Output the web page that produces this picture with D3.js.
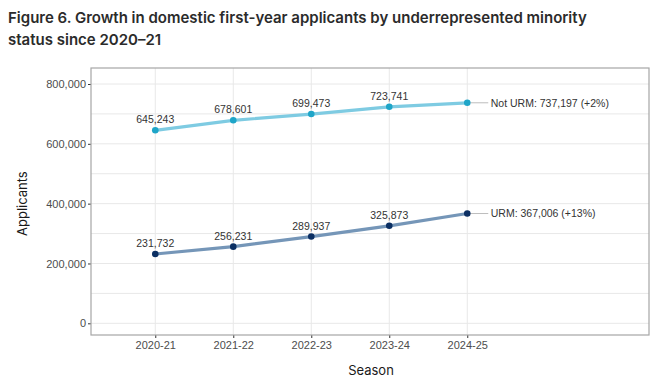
<!DOCTYPE html>
<html>
<head>
<meta charset="utf-8" />
<title>Figure 6</title>
<script src="https://d3js.org/d3.v7.min.js"></script>
<style>
body { margin: 0; background: #fff; }
svg { display: block; }
.title { font-family: Inter, "Noto Sans", sans-serif; font-weight: 600; font-size: 15px; fill: #2b2b2b; }
.tick text { font-family: "Liberation Sans", Arial, sans-serif; font-size: 11px; fill: #4d4d4d; }
.axis-title { font-family: Inter, "Noto Sans", sans-serif; font-size: 13px; fill: #1a1a1a; }
.val { font-family: "Liberation Sans", Arial, sans-serif; font-size: 10.5px; fill: #333; }
</style>
</head>
<body>
<div id="chart"></div>
<script>
var width = 660, height = 385;

// data
var seasons = ["2020-21", "2021-22", "2022-23", "2023-24", "2024-25"];
var notUrm = [645243, 678601, 699473, 723741, 737197];
var urm = [231732, 256231, 289937, 325873, 367006];
var seriesNames = ["Not URM", "URM"];
var endLabels = ["Not URM: 737,197 (+2%)", "URM: 367,006 (+13%)"];
var yTicks = [0, 200000, 400000, 600000, 800000];
var yMinor = [100000, 300000, 500000, 700000];

var panel = { left: 91, right: 649, top: 68, bottom: 335 };

// x range is padded on the right to leave room for the end labels
var x = d3.scaleLinear().domain([-0.824, 6.33]).range([panel.left, panel.right]);
var y = d3.scaleLinear().domain([0, 800000]).range([323.3, 84]);

var svg = d3.select("#chart").append("svg")
    .attr("width", width).attr("height", height);

svg.append("text").attr("class", "title").attr("x", 8).attr("y", 23)
    .text("Figure 6. Growth in domestic first-year applicants by underrepresented minority");
svg.append("text").attr("class", "title").attr("x", 8).attr("y", 45)
    .text("status since 2020\u201321");

// grid
var grid = svg.append("g");
grid.selectAll("line.h").data(yTicks.concat(yMinor)).enter().append("line")
    .attr("x1", panel.left).attr("x2", panel.right)
    .attr("y1", function(d) { return y(d); }).attr("y2", function(d) { return y(d); })
    .attr("stroke", "#e8e8e8").attr("stroke-width", 1);
grid.selectAll("line.v").data(seasons).enter().append("line")
    .attr("y1", panel.top).attr("y2", panel.bottom)
    .attr("x1", function(d, i) { return x(i); }).attr("x2", function(d, i) { return x(i); })
    .attr("stroke", "#e8e8e8").attr("stroke-width", 1);

// axes
var yAxis = svg.append("g").attr("transform", "translate(" + panel.left + ",0)")
    .call(d3.axisLeft(y).tickValues(yTicks).tickSize(3).tickPadding(2).tickFormat(d3.format(",")));
var xAxis = svg.append("g").attr("transform", "translate(0," + panel.bottom + ")")
    .call(d3.axisBottom(x).tickValues(d3.range(seasons.length)).tickSize(3).tickPadding(3)
        .tickFormat(function(i) { return seasons[i]; }));
[yAxis, xAxis].forEach(function(a) {
    a.select(".domain").remove();
    a.selectAll(".tick line").attr("stroke", "#333");
});

svg.append("rect").attr("x", panel.left).attr("y", panel.top)
    .attr("width", panel.right - panel.left).attr("height", panel.bottom - panel.top)
    .attr("fill", "none").attr("stroke", "#a6a6a6").attr("stroke-width", 1.2);

svg.append("text").attr("class", "axis-title")
    .attr("transform", "translate(27," + y(400000) + ") rotate(-90)")
    .attr("text-anchor", "middle").text("Applicants");
svg.append("text").attr("class", "axis-title")
    .attr("x", (panel.left + panel.right) / 2 + 1).attr("y", 375)
    .attr("text-anchor", "middle").text("Season");

// series
var series = [
    { name: seriesNames[0], values: notUrm, line: "#7ecbe2", dot: "#1ea5c8", label: endLabels[0] },
    { name: seriesNames[1], values: urm, line: "#7596b8", dot: "#0b2f63", label: endLabels[1] }
];
var line = d3.line().x(function(d, i) { return x(i); }).y(function(d) { return y(d); });

series.forEach(function(s) {
    var g = svg.append("g");
    var n = s.values.length - 1;
    g.append("line")
        .attr("x1", x(n)).attr("x2", x(n) + 21)
        .attr("y1", y(s.values[n])).attr("y2", y(s.values[n]))
        .attr("stroke", "#bdbdbd").attr("stroke-width", 1);
    g.append("path").datum(s.values).attr("d", line)
        .attr("fill", "none").attr("stroke", s.line).attr("stroke-width", 3.2);
    g.selectAll("circle").data(s.values).enter().append("circle")
        .attr("cx", function(d, i) { return x(i); }).attr("cy", function(d) { return y(d); })
        .attr("r", 3.3).attr("fill", s.dot);
    g.selectAll("text.val").data(s.values.slice(0, n)).enter().append("text")
        .attr("class", "val").attr("text-anchor", "middle")
        .attr("x", function(d, i) { return x(i); }).attr("y", function(d) { return y(d) - 7; })
        .text(function(d) { return d3.format(",")(d); });
    g.append("text").attr("class", "val")
        .attr("x", x(n) + 23.5).attr("y", y(s.values[n]) + 3.8)
        .text(s.label);
});
</script>
</body>
</html>
